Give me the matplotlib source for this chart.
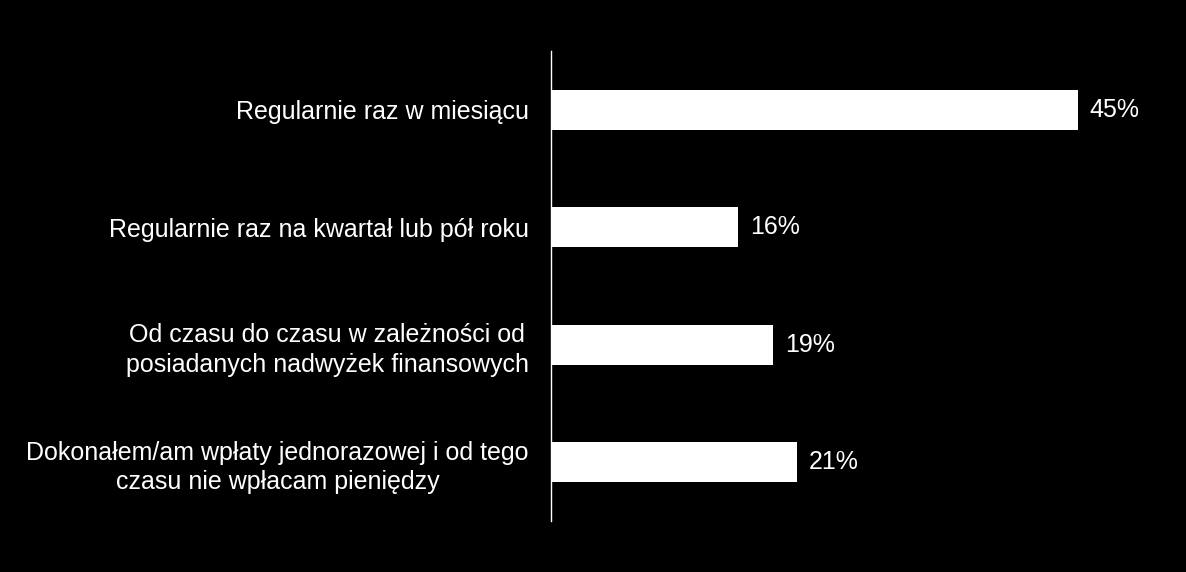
import matplotlib.pyplot as plt

# data
categories = [
    "Regularnie raz w miesiącu",
    "Regularnie raz na kwartał lub pół roku",
    "Od czasu do czasu w zależności od\nposiadanych nadwyżek finansowych",
    "Dokonałem/am wpłaty jednorazowej i od tego\nczasu nie wpłacam pieniędzy",
]
values = [45, 16, 19, 21]
value_labels = ["45%", "16%", "19%", "21%"]

plt.rcParams["font.family"] = ["Liberation Sans", "DejaVu Sans"]

fig = plt.figure(figsize=(11.86, 5.72), dpi=100, facecolor="black")
# axis line at x=551px, spans y 50..520 px
ax = fig.add_axes([551 / 1186, 51 / 572, 632 / 1186, 470 / 572], facecolor="black")

ypos = list(range(len(categories)))
ax.barh(ypos, values, height=0.34, color="white", edgecolor="none")
ax.set_ylim(len(categories) - 0.5, -0.5)
ax.set_xlim(0, 54)

for y, v, lab in zip(ypos, values, value_labels):
    ax.text(v + 1.0, y, lab, color="white", fontsize=18, va="center", ha="left")

ax.set_yticks(ypos)
ax.set_yticklabels(categories, color="white", fontsize=18,
                   multialignment="center", linespacing=1.3)
ax.tick_params(axis="y", length=0, pad=16)
ax.set_xticks([])

for side in ["top", "right", "bottom"]:
    ax.spines[side].set_visible(False)
ax.spines["left"].set_color("white")
ax.spines["left"].set_linewidth(1)

fig.savefig("out.png", dpi=100, facecolor="black")
